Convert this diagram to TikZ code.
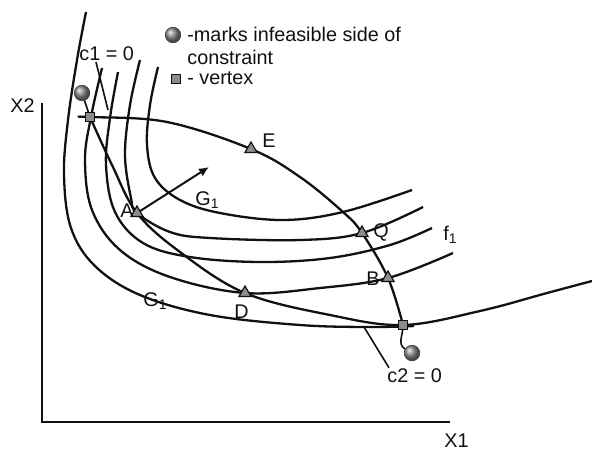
\documentclass[tikz,border=0pt]{standalone}
\usepackage{fontspec}
\setmainfont{Liberation Sans}
\usetikzlibrary{arrows.meta,shapes.geometric}
\definecolor{PlotInk}{HTML}{111111}
\definecolor{MarkGray}{HTML}{8C8C8C}

\begin{document}
\begin{tikzpicture}[
  x=0.5pt,y=-0.5pt,
  font=\fontsize{9.9}{11.5}\selectfont,
  contour/.style={draw=PlotInk,line width=1.15pt},
  axis/.style={draw=PlotInk,line width=0.9pt},
  leader/.style={draw=PlotInk,line width=0.8pt},
  txt/.style={inner sep=0pt,anchor=base west,text=PlotInk},
  tri/.style={regular polygon,regular polygon sides=3,draw=PlotInk,fill=MarkGray,minimum size=7pt,inner sep=0pt,line width=0.6pt},
  vtx/.style={rectangle,draw=PlotInk,fill=MarkGray,minimum size=4.6pt,inner sep=0pt,line width=0.6pt},
  infeas/.style={circle,draw=PlotInk!80,line width=0.3pt,shading=ball,ball color=MarkGray,minimum size=7.8pt,inner sep=0pt},
  arrow/.style={-{Latex[length=5pt,width=4.5pt]},draw=PlotInk,line width=1pt}
]
\useasboundingbox (0,0) rectangle (592,451);
\coordinate (V1) at (90,117);
\coordinate (V2) at (403,325);
\coordinate (A) at (137,213);
\coordinate (D) at (245,293);
\coordinate (E) at (251,149);
\coordinate (Q) at (362,233);
\coordinate (B) at (388,278);
\coordinate (Gtip) at (209,167);
\coordinate (ytop) at (42,103);
\coordinate (xend) at (450,422);
\coordinate (c1foot) at (108,110);
\coordinate (c2foot) at (364,327);
\draw[axis] (ytop) |- (xend);
\draw[contour] plot[smooth,tension=0.6] coordinates {(86,12) (77,60) (68,120) (64,175) (71,228) (95,266) (140,295) (210,315) (300,325) (370,327) (414,326)};
\draw[contour] plot[smooth,tension=0.6] coordinates {(V1) (112,165) (A) (180,252) (D) (330,315) (V2) (480,311) (547,293) (592,281)};
\draw[contour] plot[smooth,tension=0.6] coordinates {(78,117) (V1) (167,122) (E) (300,177) (343,212) (Q) (B) (V2)};
\draw[contour] plot[smooth,tension=0.6] coordinates {(102,68) (91,117) (85,160) (92,210) (120,250) (170,277) (D) (320,288) (B) (453,253)};
\draw[contour] plot[smooth,tension=0.6] coordinates {(118,72) (110,118) (106,165) (115,212) (143,243) (190,257) (260,262) (330,258) (390,245) (432,228)};
\draw[contour] plot[smooth,tension=0.6] coordinates {(140,60) (130,105) (125,155) (131,198) (A) (170,232) (210,238) (300,240) (Q) (423,207)};
\draw[contour] plot[smooth,tension=0.6] coordinates {(158,67) (150,105) (147,145) (155,178) (180,200) (220,213) (283,220) (343,212) (412,190)};
\draw[arrow] (A) -- (Gtip);
\node[tri] (triA) at (A) {};
\node[tri] (triD) at (D) {};
\node[tri] (triE) at (E) {};
\node[tri] (triQ) at (Q) {};
\node[tri] (triB) at (B) {};
\node[infeas] (ball1) at (82,93) {};
\node[infeas] (ball2) at (412,353) {};
\draw[leader] (V1) -- (ball1);
\draw[leader] (V2) to[out=-88,in=150] (ball2);
\node[vtx] (vtx1) at (V1) {};
\node[vtx] (vtx2) at (V2) {};
\node[infeas] (legball) at (173,35) {};
\node[vtx] (legvtx) at (176,79) {};
\node[txt,anchor=north west,align=left] (legtxt) at (187,27) {-marks infeasible side of\\constraint};
\node[txt] (vtxtxt) at (187,84) {- vertex};
\node[txt] (c1lbl) at (79,60) {c1 = 0};
\node[txt] (c2lbl) at (387,382) {c2 = 0};
\node[txt] (x2lbl) at (10,112) {X2};
\node[txt] (x1lbl) at (444,447) {X1};
\node[txt] (Elbl) at (262,147) {E};
\node[txt] (Albl) at (120,217) {A};
\node[txt] (Qlbl) at (373,237) {Q};
\node[txt] (Blbl) at (366,285) {B};
\node[txt] (Dlbl) at (234,318) {D};
\node[txt] (f1lbl) at (443,240) {f\textsubscript{1}};
\node[txt] (g1lbl) at (195,205) {G\textsubscript{1}};
\node[txt] (g1low) at (143,306) {G\textsubscript{1}};
\draw[leader] ([xshift=8.5pt,yshift=-1pt]c1lbl.base west) -- (c1foot);
\draw[leader] ([xshift=1pt]c2lbl.north west) -- (c2foot);
\end{tikzpicture}
\end{document}
